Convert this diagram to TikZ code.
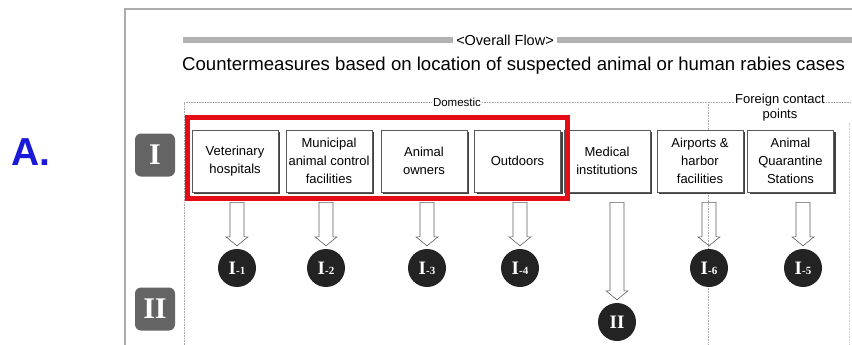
\documentclass[tikz,border=0pt]{standalone}
\usepackage{fontspec}
\setmainfont{Liberation Sans}
\newfontfamily\serifx{Liberation Serif}
\usetikzlibrary{shadows,calc}
\definecolor{ablue}{RGB}{25,25,215}
\definecolor{rred}{RGB}{228,12,22}
\definecolor{rowgray}{RGB}{100,100,100}
\definecolor{circ}{RGB}{35,35,35}
\tikzset{
  box/.style={draw=gray!70!black, line width=0.6pt, fill=white,
    minimum width=86pt, minimum height=62pt, inner sep=1pt, align=center,
    font=\fontsize{13}{18}\selectfont,
    drop shadow={shadow xshift=2pt, shadow yshift=-2pt, fill=black!75, opacity=1}},
  rowlab/.style={fill=rowgray, rounded corners=6pt, minimum width=40pt,
    minimum height=43pt, inner sep=0pt, text=white,
    font=\serifx\bfseries\fontsize{30}{30}\selectfont},
  numc/.style={circle, fill=circ, minimum size=38pt, inner sep=0pt, text=white,
    font=\serifx\bfseries\fontsize{19}{19}\selectfont},
  harr/.style={draw=gray!75!black, line width=0.6pt},
  divline/.style={gray!70, line width=0.6pt, densely dotted},
  bar/.style={line width=6pt, draw=gray!60},
  lbl/.style={inner sep=1pt, align=center},
}
\newcommand{\sm}[1]{{\fontsize{11}{11}\selectfont -#1}}
\newcommand{\harrow}[2]{%
  \draw[harr] let \p1=(#1.south), \p2=(#2.north) in
    (\x2-7pt,\y1-10pt) -- (\x2+7pt,\y1-10pt) -- (\x2+7pt,\y2+12pt)
    -- (\x2+11pt,\y2+12pt) -- (\x2,\y2+3pt) -- (\x2-11pt,\y2+12pt)
    -- (\x2-7pt,\y2+12pt) -- cycle;}
\begin{document}
\begin{tikzpicture}[x=1pt,y=-1pt]
\useasboundingbox (0,0) rectangle (852,345);
\fill[white] (0,0) rectangle (852,345);
% outer frame
\coordinate (fr1) at (125,345);
\coordinate (fr2) at (125,9);
\coordinate (fr3) at (852,9);
\draw[gray!65, line width=1.2pt] (fr1) -- (fr2) -- (fr3);
% A.
\node[text=ablue, font=\bfseries\fontsize{39}{39}\selectfont, inner sep=0pt] (A) at (31,152) {A.};
% overall flow
\node[lbl, inner xsep=3pt, font=\fontsize{14.5}{16}\selectfont] (of) at (505,40) {<Overall Flow>};
\coordinate (b1l) at (183,40);
\coordinate (b2r) at (852,40);
\draw[bar] (b1l) -- (of.west);
\draw[bar] (of.east) -- (b2r);
\node[lbl, anchor=west, font=\fontsize{18.6}{20}\selectfont] (cm) at (181,66)
  {Countermeasures based on location of suspected animal or human rabies cases};
% region labels and dividers
\node[lbl, font=\fontsize{11.5}{13}\selectfont] (dom) at (457,102) {Domestic};
\node[lbl, font=\fontsize{13}{15}\selectfont] (for) at (780,108) {Foreign contact\\points};
\coordinate (d1) at (184,345);
\coordinate (d2) at (184,102);
\coordinate (d3) at (708,102);
\coordinate (d4) at (708,345);
\coordinate (d5) at (852,102);
\coordinate (d6) at (849,102);
\coordinate (d7) at (849,345);
\draw[divline] (d1) -- (d2) -- (dom.west);
\draw[divline] (dom.east) -- (d3) -- (for.west |- d3);
\draw[divline] (d3) -- (d4);
\draw[divline] (for.east |- d5) -- (d5);
\draw[divline, gray!40] (d6 |- for.south) -- (d7);
% row labels
\node[rowlab] (r1) at (155,155) {I};
\node[rowlab] (r2) at (155,309) {II};
% boxes
\node[box] (v) at (235,161) {Veterinary\\hospitals};
\node[box] (m) at (329,161) {Municipal\\animal control\\facilities};
\node[box] (o) at (424,161) {Animal\\owners};
\node[box] (out) at (517.5,161) {Outdoors};
\node[box] (med) at (607,161) {Medical\\institutions};
\node[box] (air) at (700,161) {Airports \&\\harbor\\facilities};
\node[box] (aq) at (790.5,161) {Animal\\Quarantine\\Stations};
% red frame
\coordinate (rr1) at (187,117);
\coordinate (rr2) at (567,198);
\draw[rred, line width=5pt] (rr1) rectangle (rr2);
% circles
\node[numc] (c1) at (237,268) {I\sm{1}};
\node[numc] (c2) at (326,268) {I\sm{2}};
\node[numc] (c3) at (427,268) {I\sm{3}};
\node[numc] (c4) at (520,268) {I\sm{4}};
\node[numc] (c6) at (709,268) {I\sm{6}};
\node[numc] (c5) at (803,268) {I\sm{5}};
\node[numc] (cII) at (617,322) {II};
% hollow arrows
\harrow{v}{c1}
\harrow{m}{c2}
\harrow{o}{c3}
\harrow{out}{c4}
\harrow{med}{cII}
\harrow{air}{c6}
\harrow{aq}{c5}
\end{tikzpicture}
\end{document}
